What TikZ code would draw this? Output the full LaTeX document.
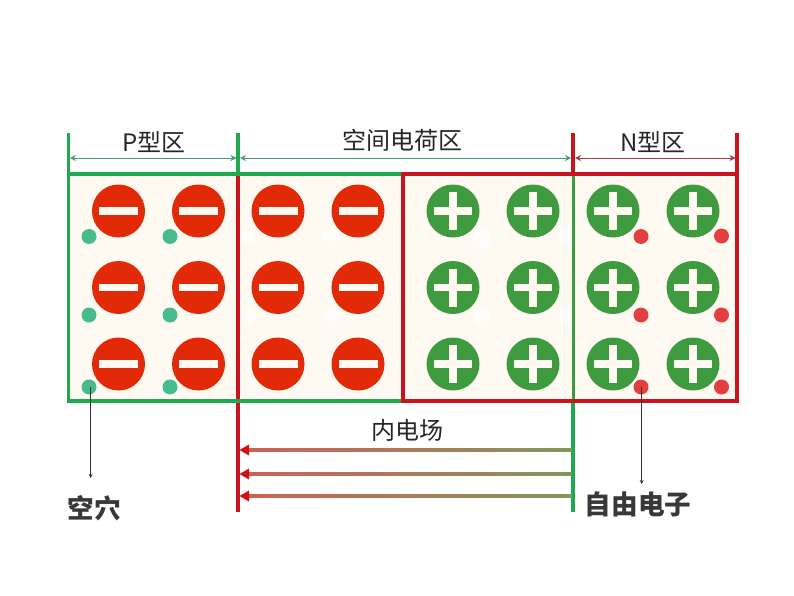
\documentclass[tikz,border=0pt]{standalone}
\usepackage{fontspec}
\setmainfont{Liberation Sans}
\newfontfamily\cjk{Noto Sans CJK SC}
\usetikzlibrary{arrows.meta}
\definecolor{gframe}{HTML}{1FAA50}
\definecolor{rframe}{HTML}{C8141C}
\definecolor{ion}{HTML}{E22A08}
\definecolor{pos}{HTML}{3F9B40}
\definecolor{hole}{HTML}{45BC8A}
\definecolor{elec}{HTML}{E24040}
\definecolor{cream}{HTML}{FEFAF2}
\definecolor{fieldl}{HTML}{CC6258}
\definecolor{fieldm}{HTML}{A8885A}
\definecolor{fieldr}{HTML}{84965A}
\definecolor{gdimc}{HTML}{4A9A78}
\definecolor{rdimc}{HTML}{9A4048}
\tikzset{
  x=1pt,y=-1pt,
  ionshape/.style={circle,minimum size=53pt,inner sep=0pt,outer sep=0pt},
  neg/.style={ionshape,fill=ion},
  plusion/.style={ionshape,fill=pos},
  holedot/.style={circle,minimum size=15pt,inner sep=0pt,fill=hole},
  elecdot/.style={circle,minimum size=15pt,inner sep=0pt,fill=elec},
  gline/.style={draw=gframe,line width=3.4pt},
  rline/.style={draw=rframe,line width=3.4pt},
  lbl/.style={font=\cjk\fontsize{24}{26}\selectfont,text=black!85,inner sep=0pt},
  blbl/.style={font=\cjk\bfseries\fontsize{26.6}{28}\selectfont,text=black!78,inner sep=0pt},
  gdim/.style={draw=gdimc,line width=0.9pt,{Stealth[length=6pt,width=6pt]}-{Stealth[length=6pt,width=6pt]}},
  rdim/.style={draw=rdimc,line width=0.9pt,{Stealth[length=6pt,width=6pt]}-{Stealth[length=6pt,width=6pt]}},
  lead/.style={draw=black!80,line width=1.1pt,-{Stealth[length=4pt,width=4pt]}},
  fieldtip/.style={fill=rframe!80!red,draw=none}
}
\begin{document}
\begin{tikzpicture}
\useasboundingbox (0,0) rectangle (794,596);
\fill[white] (0,0) rectangle (794,596);
\fill[cream] (68.5,174) rectangle (737,401);
% faint white spots
\foreach \xx/\yy/\ra/\rb in {248/237/7/7,332/236/11/7,482/238/9/12,565/236/7/10,250/316/6/9,332/316/9/9,482/316/9/9,565/316/6/9}
  \fill[white,opacity=0.7] (\xx,\yy) ellipse [x radius=\ra,y radius=\rb];
% ions
\foreach \nm/\xx/\yy in {n1/118.5/211,n2/198.5/211,n3/278/211,n4/358/211,n5/118.5/287.5,n6/198.5/287.5,n7/278/287.5,n8/358/287.5,n9/118.5/364,n10/198.5/364,n11/278/364,n12/358/364}{
  \node[neg] (\nm) at (\xx,\yy) {};
  \fill[cream] (\xx-19.5,\yy-3.7) rectangle (\xx+19.5,\yy+3.7);
}
\foreach \nm/\xx/\yy in {p1/453/211,p2/533/211,p3/613/211,p4/693/211,p5/453/287.5,p6/533/287.5,p7/613/287.5,p8/693/287.5,p9/453/364,p10/533/364,p11/613/364,p12/693/364}{
  \node[plusion] (\nm) at (\xx,\yy) {};
  \fill[cream] (\xx-19,\yy-3.7) rectangle (\xx+19,\yy+3.7);
  \fill[cream] (\xx-3.7,\yy-19) rectangle (\xx+3.7,\yy+19);
}
% carriers
\foreach \nm/\xx/\yy in {h1/89/236.5,h2/170/236.5,h3/89/315,h4/170/315,h5/89/387,h6/170/387}
  \node[holedot] (\nm) at (\xx,\yy) {};
\foreach \nm/\xx/\yy in {e1/641/236.5,e2/721.5/236,e3/641/315,e4/721.5/315,e5/641/387,e6/721.5/387}
  \node[elecdot] (\nm) at (\xx,\yy) {};
% frame lines
\coordinate (a1) at (68.5,133); \coordinate (a2) at (238,133);
\coordinate (a3) at (573,133);  \coordinate (a4) at (737,133);
\coordinate (b2) at (238,174);  \coordinate (b3) at (573,174);
\coordinate (c2) at (238,401);  \coordinate (c3) at (573,401);
\coordinate (d2) at (238,512);  \coordinate (d3) at (573,512);
\draw[rline] (b2) -- (d2);
\draw[draw=pos,line width=3pt] (b3) -- (c3);
\draw[gline] (c3) -- (d3);
\draw[gline] (a2) -- (b2);
\draw[rline] (a3) -- (b3);
\draw[gline] (a1) -- (68.5,401) -- (403,401);
\draw[gline] (66.8,174) -- (403,174);
\draw[rline] (403,174) rectangle (737,401);
\draw[rline] (a4) -- (737,174);
% dimension arrows
\coordinate (l1) at (70,158); \coordinate (l2) at (236.5,158);
\coordinate (l3) at (240,158); \coordinate (l4) at (571,158);
\coordinate (l5) at (575,158); \coordinate (l6) at (735.5,158);
\draw[gdim] (l1) -- (l2);
\draw[gdim] (l3) -- (l4);
\draw[rdim] (l5) -- (l6);
\node[lbl] (tp) at (154,142) {P型区};
\node[lbl] (tk) at (402,140.5) {空间电荷区};
\node[lbl] (tn) at (653,142) {N型区};
\node[lbl] (tf) at (407,430) {内电场};
% field arrows
\foreach \yy in {450,474,496}{
  \shade[left color=fieldl,middle color=fieldm,right color=fieldr] (249,\yy-1.9) rectangle (571.5,\yy+1.9);
  \fill[fieldtip] (239.5,\yy) -- (249,\yy-5.5) -- (249,\yy+5.5) -- cycle;
}
% leaders
\coordinate (q1) at (90.7,478);
\coordinate (q2) at (641.7,484);
\draw[lead] (h5.center -| q1) -- (q1);
\draw[lead] (e5.center -| q2) -- (q2);
\node[blbl] (th) at (94,508) {空穴};
\node[blbl] (te) at (638,504) {自由电子};
\end{tikzpicture}
\end{document}
